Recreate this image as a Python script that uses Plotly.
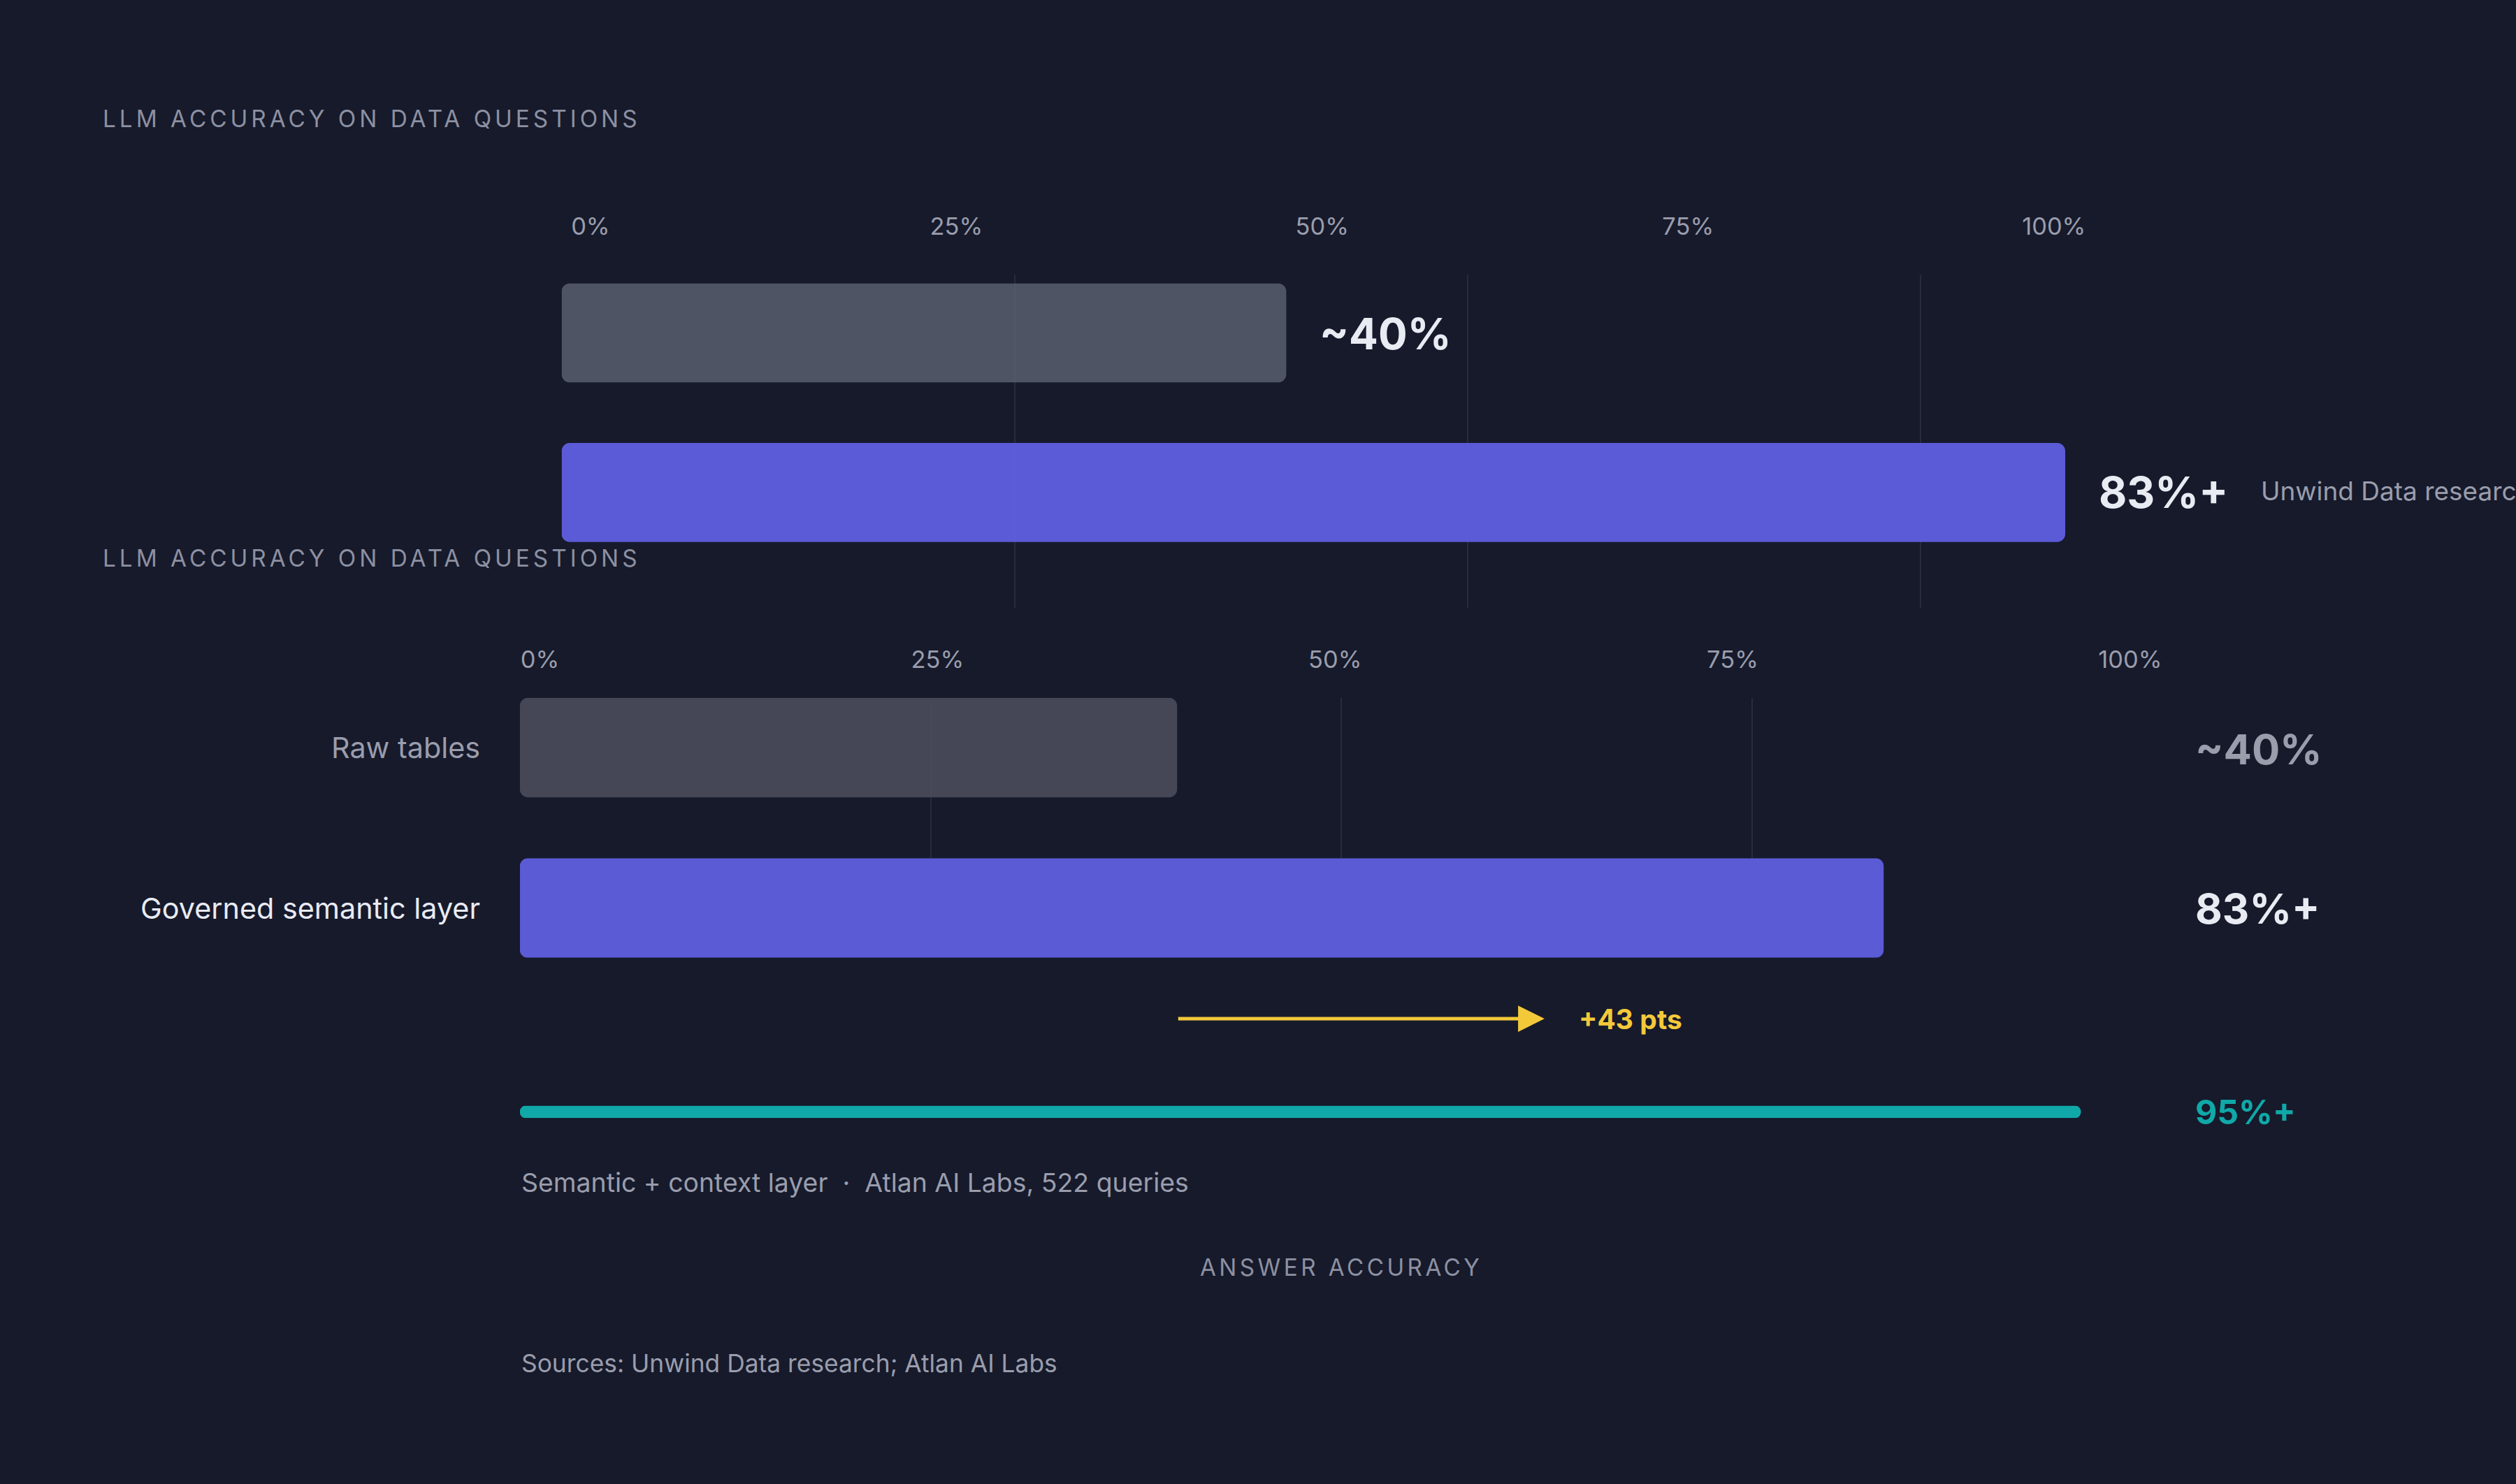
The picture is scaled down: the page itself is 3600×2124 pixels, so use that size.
import plotly.graph_objects as go

# data
categories = ["Raw tables", "Governed semantic layer"]
accuracy = [40, 83]
value_labels = ["~40%", "83%+"]
context_name = "Semantic + context layer"
context_value = 95
context_label = "95%+"
tick_values = [0, 25, 50, 75, 100]
tick_text = ["0%", "25%", "50%", "75%", "100%"]
grid_values = [25, 50, 75, 100]
title_text = "LLM ACCURACY ON DATA QUESTIONS"
source_note = "Unwind Data research"
context_note = "Semantic + context layer  ·  Atlan AI Labs, 522 queries"
axis_title = "ANSWER ACCURACY"
sources = "Sources: Unwind Data research; Atlan AI Labs"

W, H = 3600, 2124
S = W / 1568  # reference was measured on a 1568 wide preview


def px(x):
    return x / 1568


def py(y):
    return 1 - y / 925


def fs(size):
    return size * S


BG = "#161a2b"
GRID = "rgba(255,255,255,0.08)"
WHITE = "#e9ebf3"
GREY = "#9a9dac"
DIM = "#8d90a1"
PURPLE = "#5b5bd6"
TEAL = "#10a8a8"
YELLOW = "#f3c93a"
FONT = "Inter, Noto Sans, sans-serif"

fig = go.Figure()


def rounded_bars(values, cats, colors, xa, ya, width, radius):
    # an explicit base makes plotly round both ends of the bar
    fig.add_trace(go.Bar(
        y=cats, x=values, base=[0] * len(values), orientation="h", width=width,
        marker=dict(color=colors, cornerradius=radius, line=dict(width=0)),
        xaxis=xa, yaxis=ya, hoverinfo="skip",
    ))


# upper (duplicated) panel
rounded_bars(accuracy, categories, ["rgba(88,92,108,0.88)", "rgba(96,96,226,0.94)"],
             "x", "y", 0.62, fs(5))
# lower panel
rounded_bars(accuracy, categories, ["rgba(74,76,92,0.9)", PURPLE], "x2", "y2", 0.62, fs(5))
# context layer thin bar
rounded_bars([context_value], [context_name], [TEAL], "x5", "y5", 1, "50%")

# invisible anchors so the tick label axes get drawn
for xa, ya in (("x3", "y3"), ("x4", "y4")):
    fig.add_trace(go.Scatter(x=tick_values, y=[0] * len(tick_values), xaxis=xa, yaxis=ya,
                             mode="markers", marker=dict(opacity=0), hoverinfo="skip"))

grid_axis = dict(range=[0, 100], tickvals=grid_values, showticklabels=False,
                 showgrid=True, gridcolor=GRID, gridwidth=fs(1), zeroline=False,
                 showline=False, ticks="", fixedrange=True, automargin=False)
label_axis = dict(range=[0, 100], tickmode="array", tickvals=tick_values, ticktext=tick_text,
                  side="bottom", showgrid=False, zeroline=False, showline=False, ticks="",
                  tickfont=dict(family=FONT, size=fs(15), color=GREY), fixedrange=True,
                  automargin=False)
hidden_axis = dict(range=[-1, 1], visible=False, fixedrange=True, automargin=False)

annotations = []


def note(text, x, y, size, color, weight=400, xanchor="left", xref="paper", xshift=0,
         yref="paper"):
    annotations.append(dict(
        text=text, x=x, y=y, xref=xref, yref=yref, xanchor=xanchor, yanchor="middle",
        showarrow=False, xshift=xshift,
        font=dict(family=FONT, size=fs(size), color=color, weight=weight),
    ))


def spaced(text, px_gap):
    return f"<span style='letter-spacing:{px_gap}px'>{text}</span>"


note(spaced(title_text, 5), px(63), py(74), 14.5, DIM)
note(spaced(title_text, 5), px(63), py(348), 14.5, DIM)

# upper value labels follow the bar ends
note(value_labels[0], accuracy[0], py(208), 27, WHITE, 700, xref="x", xshift=fs(20))
note(value_labels[1], accuracy[1], py(307), 27, WHITE, 700, xref="x", xshift=fs(20))
note(source_note, px(1408), py(306), 16.1, GREY)

# lower row labels and value column
note(categories[0], 0, categories[0], 18, GREY, xanchor="right", xref="x2",
     xshift=-fs(24), yref="y2")
note(categories[1], 0, categories[1], 18, WHITE, xanchor="right", xref="x2",
     xshift=-fs(24), yref="y2")
note(value_labels[0], px(1367), py(467), 26, GREY, 700)
note(value_labels[1], px(1367), py(566), 26, WHITE, 700)
note(context_label, px(1367), py(693), 21, TEAL, 700)

# gain arrow from raw tables about half way across the gap
gain = accuracy[1] - accuracy[0]
annotations.append(dict(
    x=accuracy[0] + gain * 0.52, y=py(635), xref="x2", yref="paper",
    ax=accuracy[0], ay=0, axref="x2", ayref="pixel",
    showarrow=True, arrowhead=2, arrowsize=1.5, arrowwidth=fs(2.2),
    arrowcolor=YELLOW, text="",
))
note(f"+{gain} pts", px(983), py(635), 17, YELLOW, 700)

note(context_note, px(324), py(737), 16.3, GREY)
note(spaced(axis_title, 4.4), 50, py(790), 14.5, DIM, xanchor="center", xref="x2")
note(sources, px(324), py(850), 15.4, GREY)

fig.update_layout(
    width=W, height=H, autosize=False,
    paper_bgcolor=BG, plot_bgcolor="rgba(0,0,0,0)",
    margin=dict(l=0, r=0, t=0, b=0, pad=0),
    showlegend=False, barmode="overlay",
    font=dict(family=FONT, color=GREY),
    xaxis=dict(grid_axis, domain=[px(350), px(1479)], anchor="y"),
    yaxis=dict(domain=[py(379), py(171)], type="category", categoryarray=categories,
               range=[1.724, -0.367], showticklabels=False, showgrid=False,
               zeroline=False, showline=False, ticks="", fixedrange=True, automargin=False),
    xaxis2=dict(grid_axis, domain=[px(324), px(1348)], anchor="y2"),
    yaxis2=dict(domain=[py(597), py(435)], type="category", categoryarray=categories,
                range=[1.31, -0.31], showticklabels=False, showgrid=False, zeroline=False,
                showline=False, ticks="", fixedrange=True, automargin=False),
    xaxis3=dict(label_axis, domain=[px(368), px(1280)], anchor="y3"),
    yaxis3=dict(hidden_axis, domain=[py(131), py(128)], anchor="x3"),
    xaxis4=dict(label_axis, domain=[px(336.5), px(1327.5)], anchor="y4"),
    yaxis4=dict(hidden_axis, domain=[py(401), py(398)], anchor="x4"),
    xaxis5=dict(domain=[px(324), px(1348)], range=[0, 100], visible=False,
                anchor="y5", fixedrange=True, automargin=False),
    yaxis5=dict(domain=[py(696.9), py(689.2)], type="category", range=[-0.5, 0.5],
                visible=False, anchor="x5", fixedrange=True, automargin=False),
    annotations=annotations,
)

fig.write_html("out.html", config={"displayModeBar": False, "responsive": False},
               post_script="document.body.style.margin='0';")
